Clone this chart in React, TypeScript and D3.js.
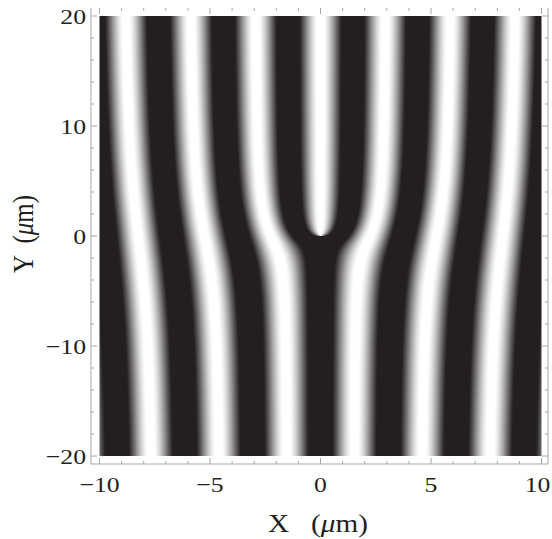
import React, { useMemo } from "react";
import * as d3 from "d3";

// ---- data / parameters ----
const xDomain = [-10, 10];
const yDomain = [-20, 20];
const xMajorTicks = [-10, -5, 0, 5, 10];
const yMajorTicks = [-20, -10, 0, 10, 20];
const xMinorStep = [1];
const yMinorStep = [2];
const fringePeriod = [3.0]; // µm
const topologicalCharge = [1];
const intensityLevels = [0.28, 0.97]; // black below, white above
const grayColors = ["#231f20", "#ffffff"];

const W = 552;
const H = 539;
const IMG = { left: 99.5, right: 541.5, top: 16, bottom: 456 };
const FRAME = { left: 91, right: 548, top: 8, bottom: 464 };
const FONT = "Liberation Serif, Times New Roman, serif";
const TEXT = "#231f20";
const AXIS = "#a8a8a8";
const STRETCH = 1.17;

function fmt(v: number) {
  return v < 0 ? "\u2212" + Math.abs(v) : String(v);
}

export default function App() {
  const x = d3.scaleLinear().domain(xDomain).range([IMG.left, IMG.right]);
  const y = d3.scaleLinear().domain(yDomain).range([IMG.bottom, IMG.top]);

  const href = useMemo(() => {
    const w = Math.round(IMG.right - IMG.left);
    const h = Math.round(IMG.bottom - IMG.top);
    const canvas = document.createElement("canvas");
    canvas.width = w;
    canvas.height = h;
    const ctx = canvas.getContext("2d")!;
    const img = ctx.createImageData(w, h);
    const k = (2 * Math.PI) / fringePeriod[0];
    const l = topologicalCharge[0];
    const g = d3
      .scaleLinear()
      .domain(intensityLevels)
      .range([0, 1])
      .clamp(true);
    const col = d3.interpolateRgb(grayColors[0], grayColors[1]);
    const px = d3.scaleLinear().domain([0, w]).range(xDomain);
    const py = d3.scaleLinear().domain([0, h]).range([yDomain[1], yDomain[0]]);
    for (let j = 0; j < h; j++) {
      const yy = py(j + 0.5);
      for (let i = 0; i < w; i++) {
        const xx = px(i + 0.5);
        const phase = k * xx - l * Math.atan2(yy, xx) + Math.PI / 2;
        const I = (1 + Math.cos(phase)) / 2;
        const c = d3.rgb(col(g(I)));
        const idx = (j * w + i) * 4;
        img.data[idx] = c.r;
        img.data[idx + 1] = c.g;
        img.data[idx + 2] = c.b;
        img.data[idx + 3] = 255;
      }
    }
    ctx.putImageData(img, 0, 0);
    return canvas.toDataURL();
  }, []);

  const xMinor = d3.range(xDomain[0], xDomain[1] + 0.001, xMinorStep[0]);
  const yMinor = d3.range(yDomain[0], yDomain[1] + 0.001, yMinorStep[0]);

  return (
    <svg
      width={W}
      height={H}
      style={{ position: "absolute", left: 0, top: 0, background: "#fff" }}
    >
      <image
        href={href}
        x={IMG.left}
        y={IMG.top}
        width={IMG.right - IMG.left}
        height={IMG.bottom - IMG.top}
        preserveAspectRatio="none"
      />
      {/* frame */}
      <line x1={FRAME.left} x2={FRAME.left} y1={FRAME.top} y2={FRAME.bottom} stroke={AXIS} />
      <line x1={FRAME.right} x2={FRAME.right} y1={FRAME.top} y2={FRAME.bottom} stroke={AXIS} />
      <line x1={FRAME.left} x2={FRAME.right} y1={FRAME.bottom} y2={FRAME.bottom} stroke={AXIS} />
      {/* ticks */}
      {xMinor.map((v) => {
        const major = xMajorTicks.includes(v);
        const len = major ? 6 : 3;
        return (
          <g key={"xt" + v}>
            <line x1={x(v)} x2={x(v)} y1={FRAME.bottom} y2={FRAME.bottom - len} stroke={AXIS} />
            <line x1={x(v)} x2={x(v)} y1={FRAME.top} y2={FRAME.top + len} stroke={AXIS} />
          </g>
        );
      })}
      {yMinor.map((v) => {
        const major = yMajorTicks.includes(v);
        const len = major ? 6 : 3;
        return (
          <g key={"yt" + v}>
            <line x1={FRAME.left} x2={FRAME.left + len} y1={y(v)} y2={y(v)} stroke={AXIS} />
            <line x1={FRAME.right} x2={FRAME.right - len} y1={y(v)} y2={y(v)} stroke={AXIS} />
          </g>
        );
      })}
      {/* tick labels */}
      {xMajorTicks.map((v) => (
        <text
          key={"xl" + v}
          transform={`translate(${Math.min(x(v), 537.5)},492) scale(${STRETCH},1)`}
          textAnchor="middle"
          fontFamily={FONT}
          fontSize={22}
          fill={TEXT}
        >
          {fmt(v)}
        </text>
      ))}
      {yMajorTicks.map((v) => (
        <text
          key={"yl" + v}
          transform={`translate(86,${y(v)}) scale(${STRETCH},1)`}
          dy="0.35em"
          textAnchor="end"
          fontFamily={FONT}
          fontSize={22}
          fill={TEXT}
        >
          {fmt(v)}
        </text>
      ))}
      {/* axis titles */}
      <text
        transform={`translate(318,532) scale(${STRETCH},1)`}
        textAnchor="middle"
        fontFamily={FONT}
        fontSize={25}
        fill={TEXT}
        style={{ whiteSpace: "pre" }}
      >
        {"X   ("}
        <tspan fontStyle="italic">μ</tspan>
        {"m)"}
      </text>
      <text
        transform={`translate(33,234) scale(${STRETCH},1) rotate(-90)`}
        textAnchor="middle"
        fontFamily={FONT}
        fontSize={25}
        fill={TEXT}
        style={{ whiteSpace: "pre" }}
      >
        {"Y  ("}
        <tspan fontStyle="italic">μ</tspan>
        {"m)"}
      </text>
    </svg>
  );
}
